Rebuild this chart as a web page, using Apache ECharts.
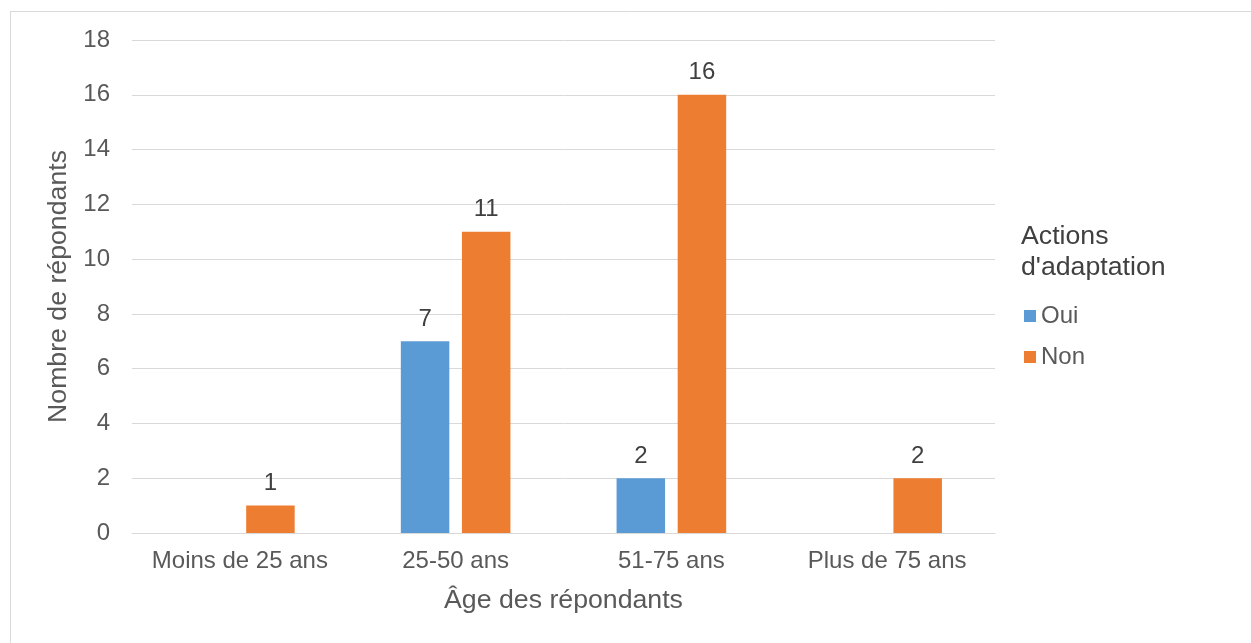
<!DOCTYPE html>
<html>
<head>
<meta charset="utf-8">
<script src="https://cdn.jsdelivr.net/npm/echarts@6/dist/echarts.min.js"></script>
<style>
html,body{margin:0;padding:0;background:#fff;}
#chart{width:1251px;height:643px;}
</style>
</head>
<body>
<div id="chart"></div>
<script>
const categories = ['Moins de 25 ans', '25-50 ans', '51-75 ans', 'Plus de 75 ans'];
const ouiValues = [null, 7, 2, null];
const nonValues = [1, 11, 16, 2];
const yTicks = { min: 0, max: 18, interval: 2 };

const FONT = '"Liberation Sans", Arial, sans-serif';
const chart = echarts.init(document.getElementById('chart'));
const labelStyle = {
  show: true, position: 'top', distance: 10,
  fontSize: 24, color: '#404040', fontFamily: FONT
};
chart.setOption({
  animation: false,
  textStyle: { fontFamily: FONT },
  graphic: [
    { type: 'line', shape: { x1: 10, y1: 11.5, x2: 1251, y2: 11.5 }, style: { stroke: '#D9D9D9', lineWidth: 1 } },
    { type: 'line', shape: { x1: 10.5, y1: 11, x2: 10.5, y2: 643 }, style: { stroke: '#D9D9D9', lineWidth: 1 } }
  ],
  title: {
    text: "Actions\nd'adaptation",
    left: 1016, top: 216,
    textStyle: { fontSize: 26.7, fontWeight: 'normal', color: '#404040', lineHeight: 31, fontFamily: FONT }
  },
  legend: {
    orient: 'vertical', left: 1019, top: 299,
    itemWidth: 12, itemHeight: 12, itemGap: 17,
    icon: 'rect',
    textStyle: { fontSize: 24, color: '#595959', fontFamily: FONT },
    data: ['Oui', 'Non']
  },
  grid: { left: 132, right: 256, top: 40, bottom: 110, containLabel: false },
  xAxis: {
    type: 'category',
    data: categories,
    name: 'Âge des répondants',
    nameLocation: 'middle',
    nameGap: 54,
    nameTextStyle: { fontSize: 26.7, color: '#595959', fontFamily: FONT },
    axisLine: { lineStyle: { color: '#D9D9D9', width: 1 } },
    axisTick: { show: false },
    axisLabel: { fontSize: 24, color: '#595959', margin: 16, interval: 0, fontFamily: FONT }
  },
  yAxis: {
    type: 'value',
    min: yTicks.min, max: yTicks.max, interval: yTicks.interval,
    name: 'Nombre de répondants',
    nameLocation: 'middle',
    nameGap: 57,
    nameRotate: 90,
    nameTextStyle: { fontSize: 26.7, color: '#595959', fontFamily: FONT },
    axisLine: { show: false },
    axisTick: { show: false },
    splitLine: { lineStyle: { color: '#D9D9D9', width: 1 } },
    axisLabel: { fontSize: 24, color: '#595959', margin: 22, fontFamily: FONT }
  },
  series: [
    { name: 'Oui', type: 'bar', data: ouiValues, barWidth: 48.5, barGap: '26%',
      itemStyle: { color: '#5B9BD5' }, label: labelStyle },
    { name: 'Non', type: 'bar', data: nonValues, barWidth: 48.5, barGap: '26%',
      itemStyle: { color: '#ED7D31' }, label: labelStyle }
  ]
});
</script>
</body>
</html>
